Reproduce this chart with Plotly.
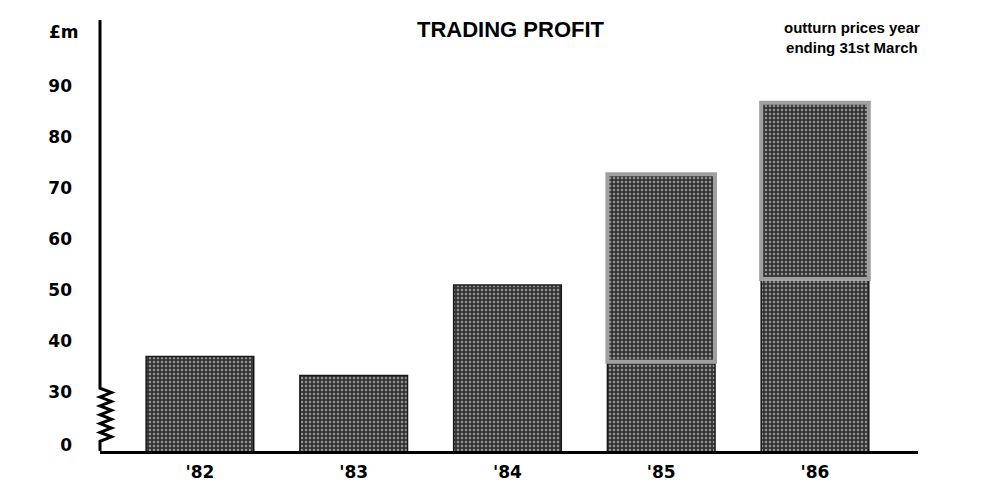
import plotly.graph_objects as go

years = ["'82", "'83", "'84", "'85", "'86"]
profit_total = [37.0, 33.3, 51.0, 72.7, 86.7]
profit_lower = [37.0, 33.3, 51.0, 36.0, 52.2]
ytick_vals = [19.7, 30, 40, 50, 60, 70, 80, 90]
ytick_text = ["0", "30", "40", "50", "60", "70", "80", "90"]

Y_MIN, Y_MAX = 18.5, 102.9
BAR_DARK = "#353535"
SPECK = "#f0f0f0"

upper = [t - l if t > l else None for t, l in zip(profit_total, profit_lower)]

fig = go.Figure()
fig.add_trace(go.Bar(
    x=years, y=profit_lower,
    marker=dict(color=BAR_DARK, line=dict(color="#1a1a1a", width=1.5),
                pattern=dict(shape=".", fgcolor=SPECK, bgcolor=BAR_DARK,
                             size=4, solidity=0.3)),
    showlegend=False, hoverinfo="x+y",
))
fig.add_trace(go.Bar(
    x=years, y=upper, base=profit_lower,
    marker=dict(color=BAR_DARK, line=dict(color="#a0a0a0", width=4),
                pattern=dict(shape=".", fgcolor=SPECK, bgcolor=BAR_DARK,
                             size=4, solidity=0.3)),
    showlegend=False, hoverinfo="x+y",
))

# y axis line with a break (zigzag) between 0 and 30
zz_top, zz_bot = 30.8, 20.4
n = 12
path = f"M 0,{Y_MAX} L 0,{zz_top}"
for i in range(1, n + 1):
    yy = zz_top - (zz_top - zz_bot) * i / n
    xx = 0.014 if i % 2 == 1 else 0
    path += f" L {xx},{yy}"
path += f" L 0,{Y_MIN}"
fig.add_shape(type="path", path=path, xref="paper", yref="y",
              line=dict(color="black", width=3))

W, H = 981, 494
L, R, T, B = 100, 63, 20, 41

fig.update_layout(
    width=W, height=H,
    margin=dict(l=L, r=R, t=T, b=B),
    paper_bgcolor="white", plot_bgcolor="white",
    barmode="overlay", bargap=0.3,
    font=dict(family="DejaVu Sans", size=17, color="black", weight="bold"),
    xaxis=dict(range=[-0.65, 4.67], showline=True, linecolor="black", linewidth=3,
               ticks="", showgrid=False, zeroline=False, ticklabelstandoff=4,
               tickfont=dict(size=17, family="DejaVu Sans", weight="bold")),
    yaxis=dict(range=[Y_MIN, Y_MAX], showline=False, showgrid=False, zeroline=False,
               tickmode="array", tickvals=ytick_vals, ticktext=ytick_text,
               ticks="", ticklabelstandoff=27,
               tickfont=dict(size=17, family="DejaVu Sans", weight="bold")),
)

def px(x):
    return (x - L) / (W - L - R)
def py(y):
    return (H - B - y) / (H - T - B)

fig.add_annotation(text="£m", x=px(64), y=py(32), xref="paper", yref="paper",
                   showarrow=False, xanchor="center", yanchor="middle",
                   font=dict(size=17, family="DejaVu Sans", weight="bold"))
fig.add_annotation(text="TRADING PROFIT", x=px(511), y=py(30), xref="paper", yref="paper",
                   showarrow=False, xanchor="center", yanchor="middle",
                   font=dict(size=22, family="Liberation Sans", weight="bold"))
fig.add_annotation(text="outturn prices year<br>ending 31st March", x=px(852), y=py(38),
                   xref="paper", yref="paper", showarrow=False,
                   xanchor="center", yanchor="middle", align="center",
                   font=dict(size=15, family="Liberation Sans", weight="bold"))

fig.write_html("out.html")
